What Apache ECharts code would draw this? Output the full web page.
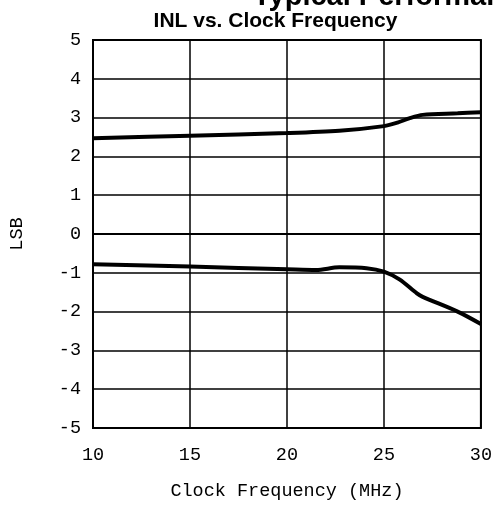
<!DOCTYPE html>
<html>
<head>
<meta charset="utf-8">
<script src="https://cdn.jsdelivr.net/npm/echarts@6/dist/echarts.min.js"></script>
<style>
  html, body { margin: 0; padding: 0; background: #fff; }
  #chart { width: 495px; height: 510px; }
</style>
</head>
<body>
<div id="chart"></div>
<script>
// clock frequency (MHz) and INL (LSB)
var upperFreq = [10, 15, 20, 22.7, 25, 25.7, 26.3, 27, 28.8, 30];
var upperInl  = [2.47, 2.53, 2.6, 2.66, 2.78, 2.87, 2.98, 3.07, 3.11, 3.14];
var lowerFreq = [10, 15, 20, 21.5, 22.7, 24.1, 25, 25.8, 26.7, 27, 28.8, 30];
var lowerInl  = [-0.78, -0.84, -0.91, -0.93, -0.86, -0.88, -0.97, -1.17, -1.53, -1.62, -2.0, -2.32];

function pairs(xs, ys) {
  var out = [];
  for (var i = 0; i < xs.length; i++) out.push([xs[i], ys[i]]);
  return out;
}

var labelFont = 'Liberation Mono';
var myChart = echarts.init(document.getElementById('chart'));
myChart.setOption({
  animation: false,
  graphic: [
    {
      type: 'text', x: 253, y: -3,
      style: { text: 'Typical Performance', font: 'bold 29px "Liberation Sans"', fill: '#000', verticalAlign: 'middle' }
    },
    {
      type: 'text', x: 275.5, y: 21,
      style: { text: 'INL vs. Clock Frequency', font: 'bold 21px "Liberation Sans"', fill: '#000', align: 'center', verticalAlign: 'middle' }
    }
  ],
  grid: {
    left: 93, right: 13, top: 40, bottom: 82,
    show: true, borderColor: '#000', borderWidth: 2
  },
  xAxis: {
    type: 'value', min: 10, max: 30, interval: 5,
    name: 'Clock Frequency (MHz)', nameLocation: 'middle', nameGap: 54,
    nameTextStyle: { fontFamily: labelFont, fontSize: 18.5, color: '#000' },
    axisLine: { show: true, lineStyle: { color: '#000', width: 2 } },
    axisTick: { show: false },
    axisLabel: { fontFamily: labelFont, fontSize: 18.5, color: '#000', margin: 18 },
    splitLine: { show: true, lineStyle: { color: '#000', width: 1.5 } }
  },
  yAxis: {
    type: 'value', min: -5, max: 5, interval: 1,
    name: 'LSB', nameLocation: 'middle', nameGap: 66,
    nameTextStyle: { fontFamily: labelFont, fontSize: 18.5, color: '#000' },
    axisLine: { show: true, lineStyle: { color: '#000', width: 2 } },
    axisTick: { show: false },
    axisLabel: { fontFamily: labelFont, fontSize: 18.5, color: '#000', margin: 12 },
    splitLine: { show: true, lineStyle: { color: '#000', width: 1.5 } }
  },
  series: [
    {
      type: 'line', smooth: 0.3, showSymbol: false,
      lineStyle: { color: '#000', width: 4 },
      data: pairs(upperFreq, upperInl)
    },
    {
      type: 'line', smooth: 0.3, showSymbol: false,
      lineStyle: { color: '#000', width: 4 },
      data: pairs(lowerFreq, lowerInl)
    }
  ]
});
</script>
</body>
</html>
